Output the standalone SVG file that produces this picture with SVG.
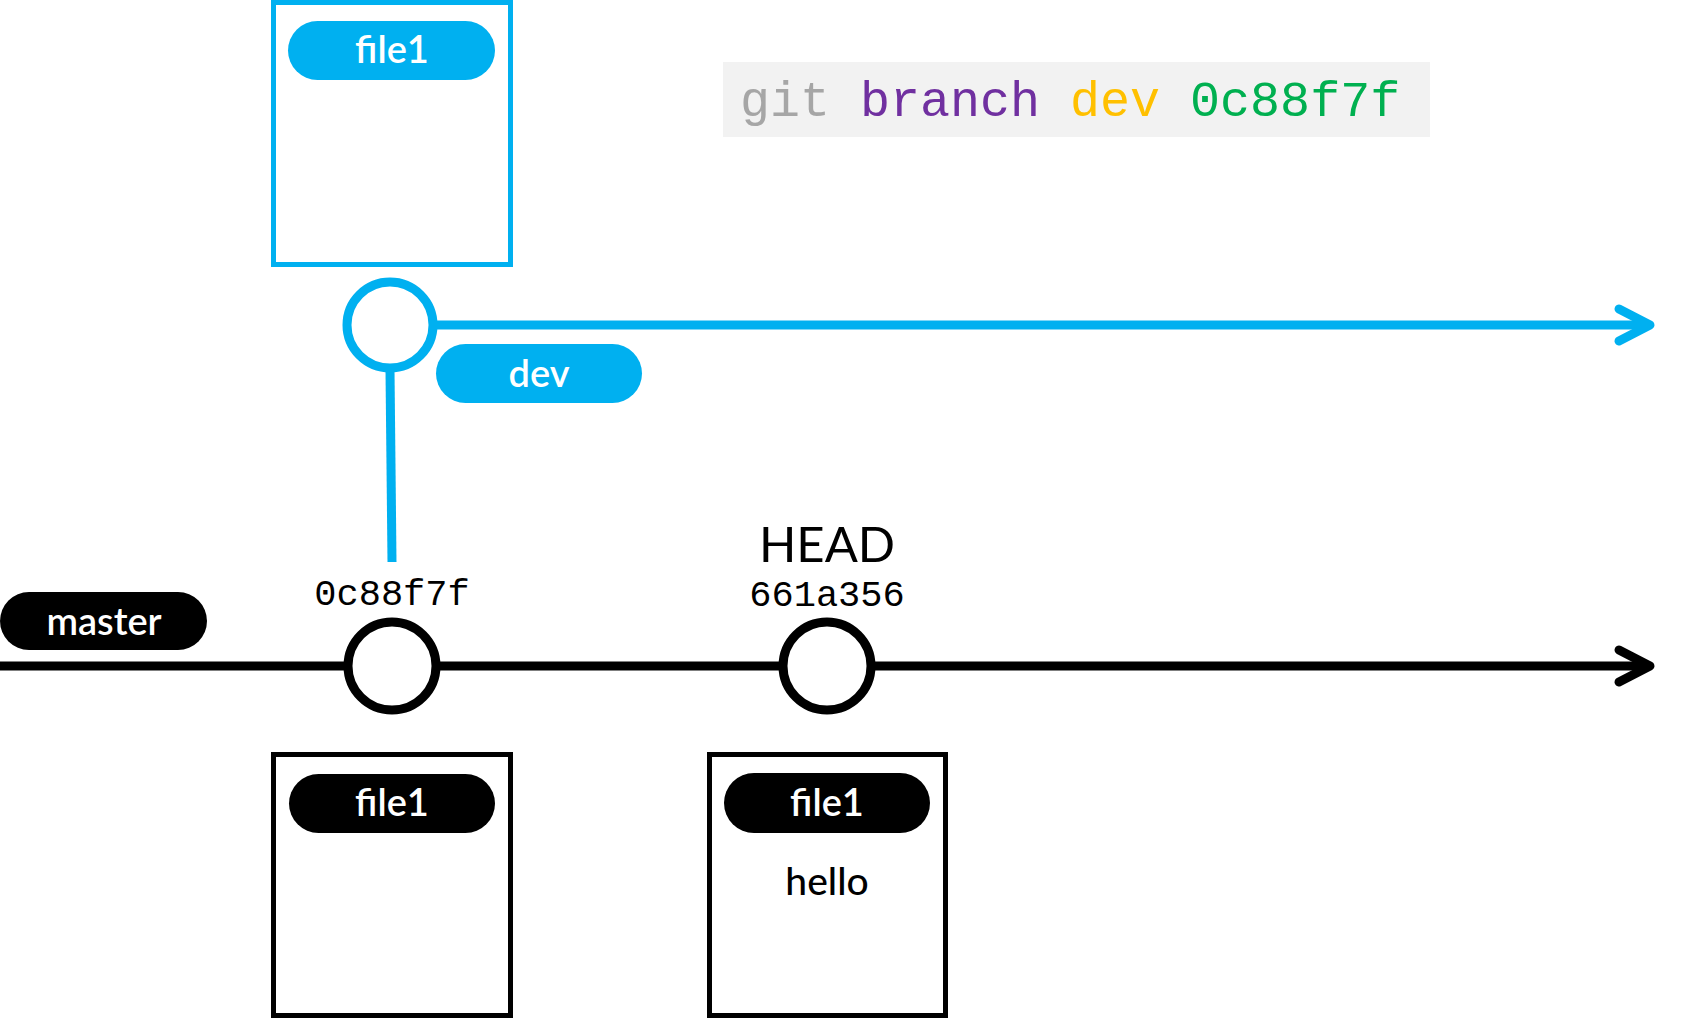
<svg xmlns="http://www.w3.org/2000/svg" width="1695" height="1019" viewBox="0 0 1695 1019">
<style>
.blue{stroke:#00b0f0;fill:none}
.blk{stroke:#000;fill:none}
.box{stroke-width:5;fill:#fff}
.ln{stroke-width:9;fill:none}
.cmt{stroke-width:9;fill:#fff}
.pillb{fill:#00b0f0}
.pillk{fill:#000}
.pt{font-family:Lato,"Open Sans",sans-serif;font-weight:600;font-size:38px;fill:#fff;text-anchor:middle}
.mono{font-family:"Liberation Mono","DejaVu Sans Mono",monospace}
.lbl{font-family:Lato,"Open Sans",sans-serif;fill:#000;text-anchor:middle}
</style>
<rect width="1695" height="1019" fill="#fff"/>
<g id="connectors">
<line class="blue ln" x1="390" y1="325" x2="1650" y2="325"/>
<polyline class="blue ln" stroke-linecap="round" stroke-linejoin="round" points="1619,309 1650,325 1619,341"/>
<line class="blue ln" x1="390" y1="370" x2="392" y2="562"/>
<line class="blk ln" x1="0" y1="666" x2="1650" y2="666"/>
<polyline class="blk ln" stroke-linecap="round" stroke-linejoin="round" points="1619,650 1650,666 1619,682"/>
</g>
<g id="command">
<rect x="723" y="62" width="707" height="75" fill="#f2f2f2"/>
<text class="mono" x="740" y="116" font-size="50"><tspan fill="#a6a6a6">git </tspan><tspan fill="#7030a0">branch </tspan><tspan fill="#ffc000">dev </tspan><tspan fill="#00b050">0c88f7f</tspan></text>
</g>
<g id="dev-snapshot">
<rect class="blue box" x="273.5" y="2.5" width="237" height="262"/>
<rect class="pillb" x="288" y="21" width="207" height="59" rx="29.5"/>
<text class="pt" x="392" y="63">file1</text>
</g>
<g id="dev-commit">
<circle class="blue cmt" cx="390" cy="325" r="43"/>
</g>
<g id="dev-label">
<rect class="pillb" x="436" y="344" width="206" height="59" rx="29.5"/>
<text class="pt" x="539" y="387">dev</text>
</g>
<g id="master-label">
<rect class="pillk" x="0" y="592" width="207" height="58" rx="29"/>
<text class="pt" x="104" y="635">master</text>
</g>
<g id="commit-0c88f7f">
<text class="mono" x="392" y="605" font-size="37" text-anchor="middle">0c88f7f</text>
<circle class="blk cmt" cx="392" cy="666" r="44"/>
</g>
<g id="commit-661a356">
<text class="lbl" x="827" y="562" font-size="49">HEAD</text>
<text class="mono" x="827" y="606" font-size="37" text-anchor="middle">661a356</text>
<circle class="blk cmt" cx="827" cy="666" r="44"/>
</g>
<g id="snapshot-0c88f7f">
<rect class="blk box" x="273.5" y="754.5" width="237" height="261"/>
<rect class="pillk" x="289" y="774" width="206" height="59" rx="29.5"/>
<text class="pt" x="392" y="816">file1</text>
</g>
<g id="snapshot-661a356">
<rect class="blk box" x="709.5" y="754.5" width="236" height="261"/>
<rect class="pillk" x="724" y="773" width="206" height="60" rx="30"/>
<text class="pt" x="827" y="816">file1</text>
<text class="lbl" x="827" y="895" font-size="39" font-weight="500">hello</text>
</g>
</svg>
